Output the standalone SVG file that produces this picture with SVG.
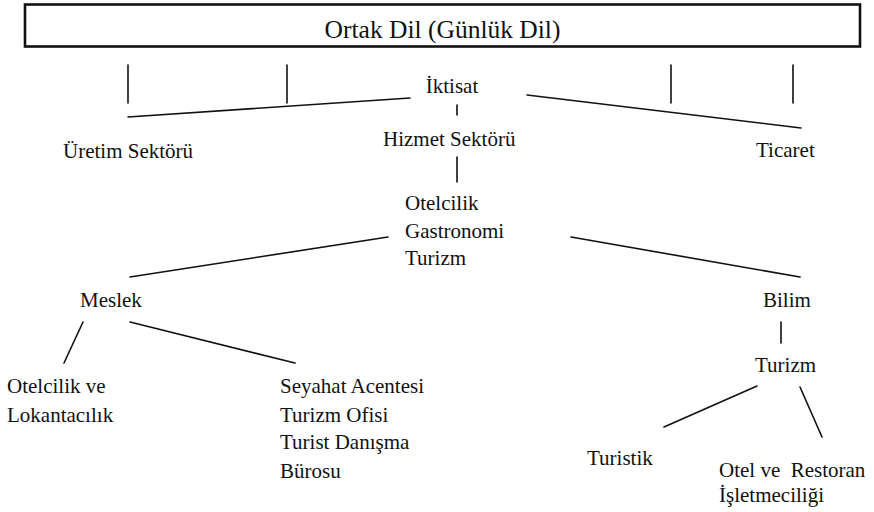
<svg xmlns="http://www.w3.org/2000/svg" width="874" height="512" viewBox="0 0 874 512">
<style>
text{font-family:'Liberation Serif','DejaVu Serif','Noto Serif',serif;font-size:21px;fill:#111}
.title{font-size:25.5px}
.c line{stroke:#111;stroke-width:1.6;stroke-linecap:round}
</style>
<rect width="874" height="512" fill="#fff"/>
<g id="ortak-dil">
<rect x="25" y="4.5" width="835" height="42" fill="#fff" stroke="#111" stroke-width="2.6"/>
<text class="title" x="442.5" y="37.5" text-anchor="middle">Ortak Dil (Günlük Dil)</text>
</g>
<g class="c" id="connectors">
<line x1="128" y1="65" x2="128" y2="103"/>
<line x1="287" y1="65" x2="287" y2="103"/>
<line x1="671" y1="65" x2="671" y2="103"/>
<line x1="793" y1="65" x2="793" y2="103"/>
<line x1="128" y1="117" x2="410" y2="98"/>
<line x1="527" y1="95" x2="801" y2="128"/>
<line x1="457" y1="105" x2="457" y2="115"/>
<line x1="457" y1="157" x2="457" y2="182"/>
<line x1="388" y1="237" x2="130" y2="277"/>
<line x1="571" y1="237" x2="800" y2="277"/>
<line x1="83" y1="322" x2="64" y2="363"/>
<line x1="130" y1="322" x2="295" y2="363"/>
<line x1="781" y1="322" x2="781" y2="343"/>
<line x1="757" y1="386" x2="664" y2="427"/>
<line x1="800" y1="387" x2="822" y2="437"/>
</g>
<g id="iktisat"><text x="452" y="93" text-anchor="middle">İktisat</text></g>
<g id="uretim"><text x="63" y="158">Üretim Sektörü</text></g>
<g id="hizmet"><text x="383" y="146">Hizmet Sektörü</text></g>
<g id="ticaret"><text x="756" y="157">Ticaret</text></g>
<g id="otelcilik-gastronomi-turizm">
<text x="405" y="210">Otelcilik</text>
<text x="405" y="238">Gastronomi</text>
<text x="405" y="265">Turizm</text>
</g>
<g id="meslek"><text x="80" y="307">Meslek</text></g>
<g id="bilim"><text x="763" y="307">Bilim</text></g>
<g id="otelcilik-lokantacilik">
<text x="7" y="393">Otelcilik ve</text>
<text x="7" y="422">Lokantacılık</text>
</g>
<g id="seyahat">
<text x="280" y="393">Seyahat Acentesi</text>
<text x="280" y="422">Turizm Ofisi</text>
<text x="280" y="449">Turist Danışma</text>
<text x="280" y="478">Bürosu</text>
</g>
<g id="turizm"><text x="755" y="372">Turizm</text></g>
<g id="turistik"><text x="587" y="465">Turistik</text></g>
<g id="otel-restoran">
<text x="719" y="477" xml:space="preserve">Otel ve  Restoran</text>
<text x="719" y="502">İşletmeciliği</text>
</g>
</svg>
